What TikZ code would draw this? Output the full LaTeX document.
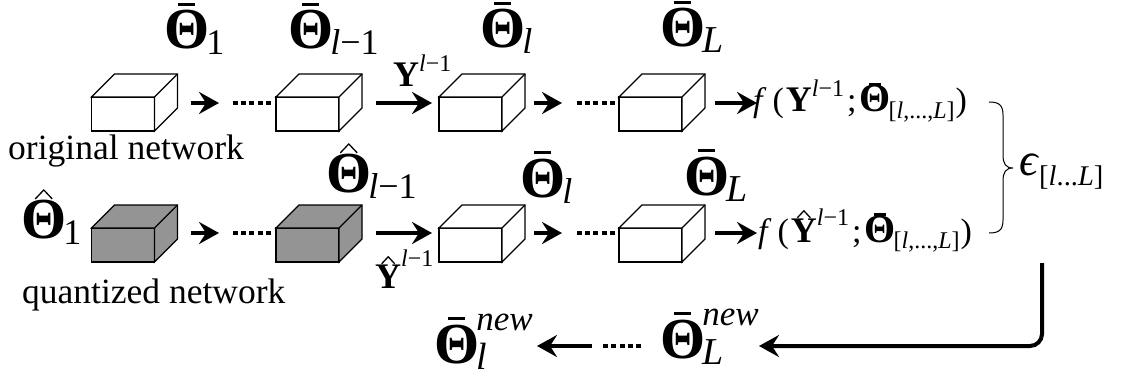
\documentclass[tikz,border=0pt]{standalone}
\usepackage{fontspec}
\setmainfont{Liberation Serif}
\usetikzlibrary{arrows.meta}
\newcommand\tf[1]{\fontsize{#1}{#1}\selectfont}
\newcommand\Stack[3]{\leavevmode\vbox{\offinterlineskip\halign{\hfil##\hfil\cr#1\cr\noalign{\vskip#2}#3\cr}}}
\newcommand\HatMk[2]{\tikz\draw[line width=1.3pt,line join=miter] (0,0)--(#1/2,-#2)--(#1,0);}
\newcommand\BTh{{\tf{58}\bfseries Θ}}
\newcommand\BarTh{\Stack{\rule{17pt}{3pt}}{5pt}{\BTh}\kern-3pt}
\newcommand\HatTh{\Stack{\HatMk{17}{9}}{0pt}{\BTh}\kern-3pt}
\newcommand\SmTh{\Stack{\rule{12pt}{2.6pt}}{0pt}{{\tf{40}\bfseries Θ}}\kern-2pt}
\newcommand\SmY{{\tf{36}\bfseries Y}}
\newcommand\HatY{\Stack{\HatMk{13}{7}}{0pt}{\SmY}}
\newcommand\SB[2][36]{\raisebox{-6pt}{\tf{#1}#2}}
\newcommand\SP[3][24]{\raisebox{#2}{\tf{#1}#3}}
\newcommand\lm{{\itshape l}−1}
\newcommand\NewScr[1]{\rlap{\raisebox{33pt}{\tf{35}\itshape new}}\raisebox{-6pt}{\tf{38}\itshape #1}}
\newcommand\FExpr[2]{\textit{f}\kern6pt(\kern2pt#1\SP{#2}{\lm}\kern3pt;\kern3pt\SmTh\SB[24]{[{\itshape l},...,{\itshape L}]}\kern1pt)}
\tikzset{x=1pt,y=-1pt,
  lab/.style={inner sep=0pt,anchor=base west,font=\tf{36}},
  face/.style={draw=black,line width=1.3pt,line join=miter},
  plain/.style={face,fill=white},
  quant/.style={face,fill=black!42},
  front/.style={rectangle,minimum width=63pt,minimum height=34pt,inner sep=0pt,outer sep=0pt},
  flow/.style={line width=4pt,-{Stealth[length=20pt,width=22pt,inset=7pt]}},
  dots/.style={line width=4pt,dash pattern=on 5pt off 3.2pt},
  brace/.style={draw=black,line width=1pt},
  back/.style={line width=4pt,rounded corners=12pt,-{Stealth[length=20pt,width=22pt,inset=7pt]}}
}
\newcommand\cube[4]{% name, style, x, y of front centre
  \node[front,#2] (#1) at (#3,#4) {};
  \draw[#2] (#1.north west) -- ++(23,-23) -- ++(63,0) -- ++(0,34) -- (#1.south east) -- (#1.north east) -- cycle;
  \draw[#2] (#1.north east) -- ++(23,-23);
}
\begin{document}
\begin{tikzpicture}
\useasboundingbox (0,0) rectangle (1126,377);
\cube{a1}{plain}{123}{114}
\cube{a2}{plain}{307.5}{114}
\cube{a3}{plain}{470.5}{114}
\cube{a4}{plain}{650.5}{114}
\cube{b1}{quant}{123}{245}
\cube{b2}{quant}{307.5}{245}
\cube{b3}{plain}{470.5}{245}
\cube{b4}{plain}{650.5}{245}
\foreach \r/\y in {a/103,b/233}{
  \coordinate (\r1s) at (191,\y); \coordinate (\r1e) at (219,\y);
  \coordinate (\r2s) at (233,\y); \coordinate (\r2e) at ([xshift=-4pt]\r2.west |- \r1s);
  \coordinate (\r3s) at (376,\y); \coordinate (\r3e) at (432,\y);
  \coordinate (\r4s) at (534,\y); \coordinate (\r4e) at (562,\y);
  \coordinate (\r5s) at (577,\y); \coordinate (\r5e) at ([xshift=-4pt]\r4.west |- \r1s);
  \coordinate (\r6s) at (715,\y); \coordinate (\r6e) at (757,\y);
  \draw[flow] (\r1s) -- (\r1e);
  \draw[dots] (\r2s) -- (\r2e);
  \draw[flow] (\r3s) -- (\r3e);
  \draw[flow] (\r4s) -- (\r4e);
  \draw[dots] (\r5s) -- (\r5e);
  \draw[flow] (\r6s) -- (\r6e);
}
\node[lab] (t1) at (164,49) {\BarTh\SB{1}};
\node[lab] (t2) at (288,49) {\BarTh\SB{\lm}};
\node[lab] (t3) at (480,48) {\BarTh\SB{\itshape l}};
\node[lab] (t4) at (660,47) {\BarTh\SB[38]{\itshape L}};
\node[lab] (y1) at (393,87) {\SmY\SP{15pt}{\lm}};
\node[lab,font=\tf{35.5}] (on) at (8,159) {original network};
\node[lab,font=\tf{35.5}] (qn) at (22,303) {quantized network};
\node[lab] (u1) at (21,238) {\HatTh\SB{1}};
\node[lab] (u2) at (326,192) {\HatTh\SB{\lm}};
\node[lab] (u3) at (520,197) {\BarTh\SB{\itshape l}};
\node[lab] (u4) at (684,195) {\BarTh\SB[38]{\itshape L}};
\node[lab] (y2) at (375,288) {\HatY\SP{22pt}{\lm}};
\node[lab,font=\tf{34}] (f1) at (753,112) {\FExpr{\SmY}{15pt}};
\node[lab,font=\tf{34}] (f2) at (758,242) {\FExpr{\HatY}{17pt}};
\node[lab,font=\tf{46}] (eps) at (1019,175) {\textit{ϵ}\raisebox{-10pt}{\tf{28.5}[{\itshape l}...{\itshape L}]}};
\node[lab] (n1) at (434,363) {\BarTh\NewScr{l}};
\node[lab] (n2) at (660,358) {\BarTh\NewScr{L}};
\coordinate (bs) at (989,102); \coordinate (be) at (989,233); \coordinate (bt) at (1013,168);
\draw[brace] (bs) .. controls (999,102) and (1003,105) .. (1003,115) -- (1003,155) .. controls (1003,164) and (1006,168) .. (bt) .. controls (1006,168) and (1003,172) .. (1003,181) -- (1003,220) .. controls (1003,230) and (999,233) .. (be);
\coordinate (rs) at (1042,263); \coordinate (rc) at (1042,346); \coordinate (re) at (759,346);
\draw[back] (rs) -- (rc) -- (re);
\coordinate (ls) at (592,346); \coordinate (le) at (537,346);
\draw[flow] (ls) -- (le);
\coordinate (ds) at (641,346); \coordinate (de) at (603,346);
\draw[dots] (ds) -- (de);
\end{tikzpicture}
\end{document}
